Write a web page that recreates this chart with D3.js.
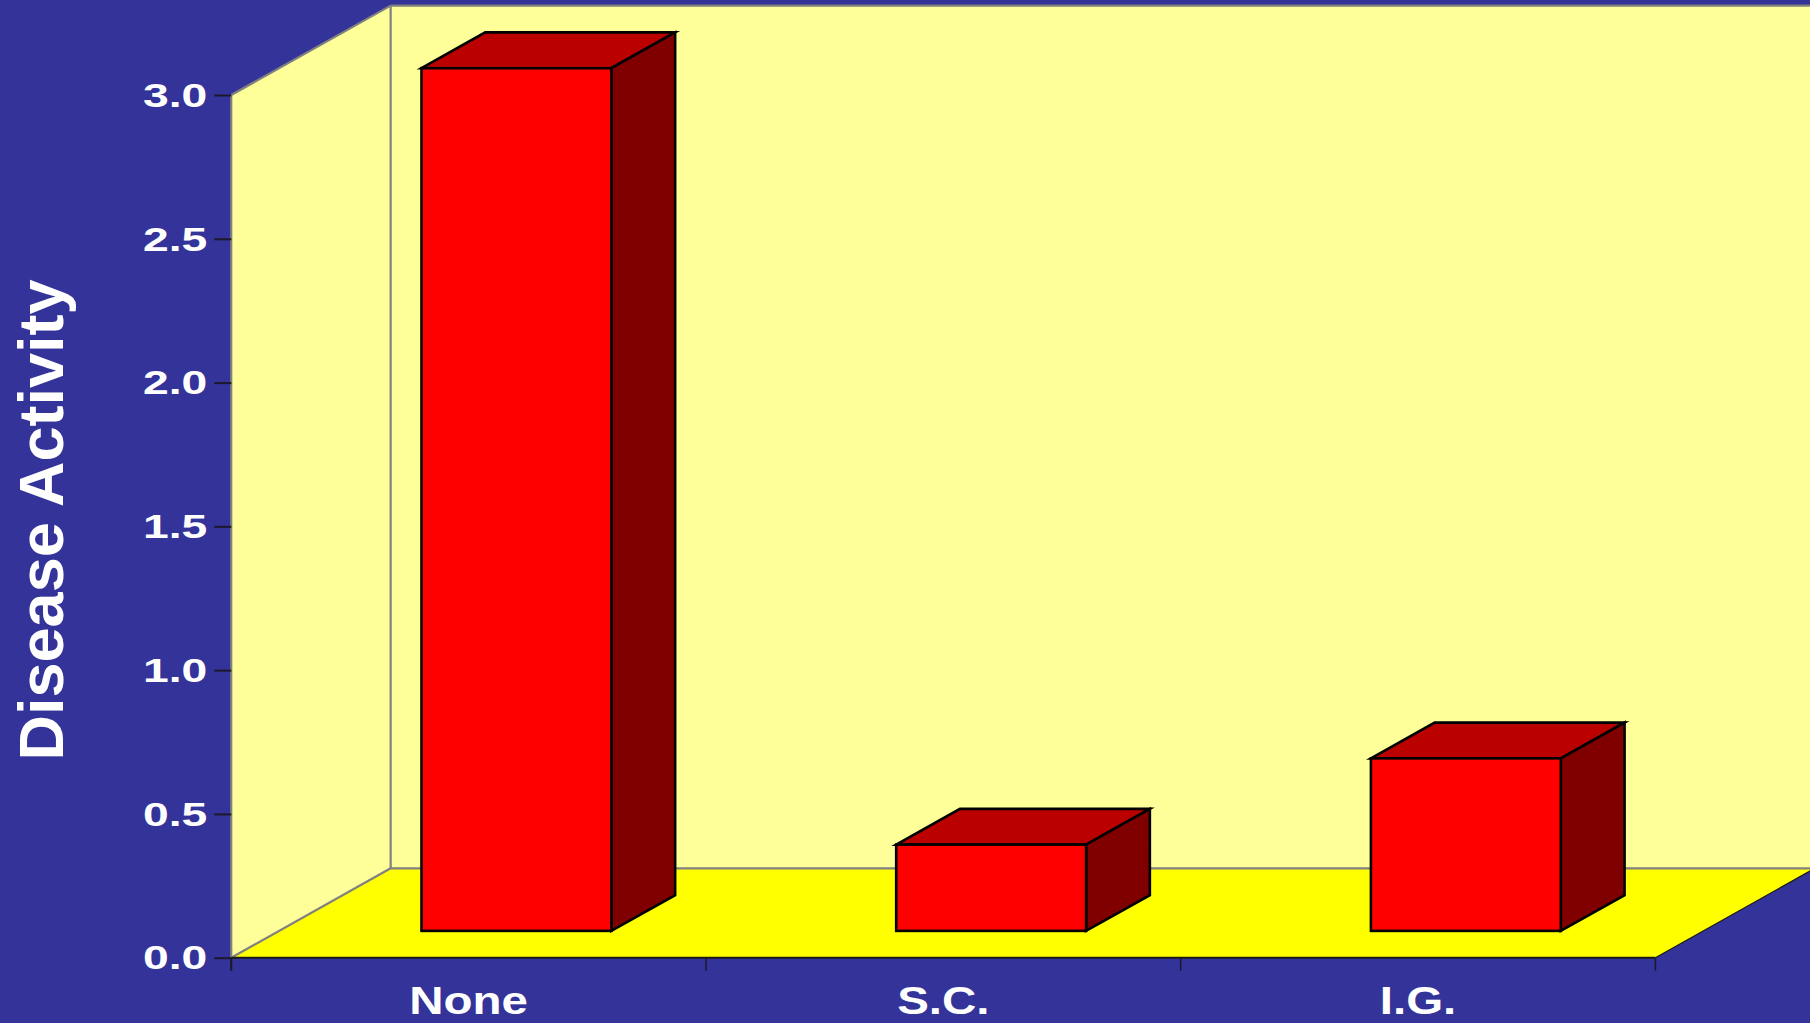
<!DOCTYPE html>
<html>
<head>
<meta charset="utf-8">
<script src="https://cdn.jsdelivr.net/npm/d3@7"></script>
<style>
  html, body { margin: 0; padding: 0; background: #333399; overflow: hidden; }
  svg { display: block; }
  text { font-family: "Liberation Sans", Arial, Helvetica, sans-serif; font-weight: bold; fill: #ffffff; }
</style>
</head>
<body>
<svg id="chart" width="1810" height="1023"></svg>
<script>
// Treatment groups and the disease activity score for each
const categories = ["None", "S.C.", "I.G."];
const values = [3.0, 0.3, 0.6];
const yTicks = [0, 0.5, 1.0, 1.5, 2.0, 2.5, 3.0];
const yTitle = "Disease Activity";

const svg = d3.select("#chart");

// Front plane of the 3-D box
const x0 = 231.25, x1 = 1655.4;
const yBottom = 957.7, yTopPx = 95;
// Depth vector of the floor (oblique projection)
const depth = { dx: 159.4, dy: -89.4 };
// Bars occupy this slice of the depth and of each category slot
const depthStart = 0.30, depthSize = 0.40, barFrac = 0.40;

const x = d3.scaleBand().domain(categories).range([x0, x1]).padding(0);
const y = d3.scaleLinear().domain([0, 3]).range([yBottom, yTopPx]);

const yMax = y(3), y0 = y(0);
const { dx, dy } = depth;
const poly = pts => pts.map(p => p.join(",")).join(" ");

// Walls and floor
svg.append("polygon")
  .attr("points", poly([[x0, yMax], [x0 + dx, yMax + dy], [x0 + dx, y0 + dy], [x0, y0]]))
  .attr("fill", "#ffff99");
svg.append("polygon")
  .attr("points", poly([[x0 + dx, yMax + dy], [x1 + dx, yMax + dy], [x1 + dx, y0 + dy], [x0 + dx, y0 + dy]]))
  .attr("fill", "#ffff99");
svg.append("polygon")
  .attr("points", poly([[x0, y0], [x1, y0], [x1 + dx, y0 + dy], [x0 + dx, y0 + dy]]))
  .attr("fill", "#ffff00");

// Grey edges of the box
const grey = svg.append("g").attr("stroke", "#808080").attr("stroke-width", 2.2).attr("fill", "none");
grey.append("line").attr("x1", x0).attr("y1", yMax).attr("x2", x0 + dx).attr("y2", yMax + dy);
grey.append("line").attr("x1", x0 + dx).attr("y1", yMax + dy).attr("x2", x0 + dx).attr("y2", y0 + dy);
grey.append("line").attr("x1", x0 + dx).attr("y1", yMax + dy).attr("x2", x1 + dx).attr("y2", yMax + dy);
grey.append("line").attr("x1", x0 + dx).attr("y1", y0 + dy).attr("x2", x1 + dx).attr("y2", y0 + dy);
grey.append("line").attr("x1", x0).attr("y1", y0).attr("x2", x0 + dx).attr("y2", y0 + dy);
grey.append("line").attr("x1", x0).attr("y1", yMax).attr("x2", x0).attr("y2", y0);

// Dark front and right floor edges
const edge = svg.append("g").attr("stroke", "#1a1a1a").attr("fill", "none");
edge.append("line").attr("x1", x0).attr("y1", y0).attr("x2", x1).attr("y2", y0).attr("stroke-width", 2);
edge.append("line").attr("x1", x1).attr("y1", y0).attr("x2", x1 + dx).attr("y2", y0 + dy).attr("stroke-width", 1.2);

// Category separator ticks below the floor
const edges = categories.map(c => x(c)).concat([x1]);
svg.append("g").selectAll("line").data(edges).join("line")
  .attr("x1", d => d).attr("x2", d => d)
  .attr("y1", y0).attr("y2", y0 + 13)
  .attr("stroke", "#1a1a2a").attr("stroke-width", 1.5);

// Y axis ticks and labels
const yAxis = d3.axisLeft(y).tickValues(yTicks).tickFormat(d3.format(".1f")).tickSize(17);
const gy = svg.append("g").attr("transform", `translate(${x0},0)`).call(yAxis);
gy.select(".domain").remove();
gy.selectAll(".tick line").attr("stroke", "#1a1a2a").attr("stroke-width", 2);
gy.selectAll(".tick text")
  .attr("x", null)
  .attr("dy", "0.33em")
  .attr("transform", "translate(-24,0) scale(1.36,1)")
  .attr("text-anchor", "end")
  .style("font-size", "34px")
  .attr("fill", "#ffffff");

// Short axis stub under the floor
svg.append("line").attr("x1", x0).attr("x2", x0).attr("y1", y0).attr("y2", y0 + 13)
  .attr("stroke", "#1a1a2a").attr("stroke-width", 2);

// 3-D bars
const bw = x.bandwidth() * barFrac;
const fdx = dx * depthStart, fdy = dy * depthStart;
const ddx = dx * depthSize, ddy = dy * depthSize;

const bars = svg.append("g").selectAll("g").data(categories.map((c, i) => ({ c, v: values[i] }))).join("g");
bars.each(function (d) {
  const g = d3.select(this);
  const left = x(d.c) + (x.bandwidth() - bw) / 2 + fdx;
  const right = left + bw;
  const bot = y0 + fdy;
  const top = y(d.v) + fdy;
  // top face
  g.append("polygon")
    .attr("points", poly([[left, top], [left + ddx, top + ddy], [right + ddx, top + ddy], [right, top]]))
    .attr("fill", "#bb0000");
  // side face
  g.append("polygon")
    .attr("points", poly([[right, top], [right + ddx, top + ddy], [right + ddx, bot + ddy], [right, bot]]))
    .attr("fill", "#800000");
  // front face
  g.append("rect")
    .attr("x", left).attr("y", top).attr("width", bw).attr("height", bot - top)
    .attr("fill", "#ff0000");
  g.selectAll("polygon, rect")
    .attr("stroke", "#000000").attr("stroke-width", 2.6).attr("stroke-linejoin", "miter");
});

// Category labels
svg.append("g").selectAll("text").data(categories).join("text")
  .attr("transform", d => `translate(${x(d) + x.bandwidth() / 2},1014) scale(1.25,1)`)
  .attr("text-anchor", "middle")
  .style("font-size", "38px")
  .text(d => d);

// Y axis title
svg.append("text")
  .attr("transform", "translate(63,520) rotate(-90)")
  .attr("text-anchor", "middle")
  .style("font-size", "63px")
  .text(yTitle);
</script>
</body>
</html>
